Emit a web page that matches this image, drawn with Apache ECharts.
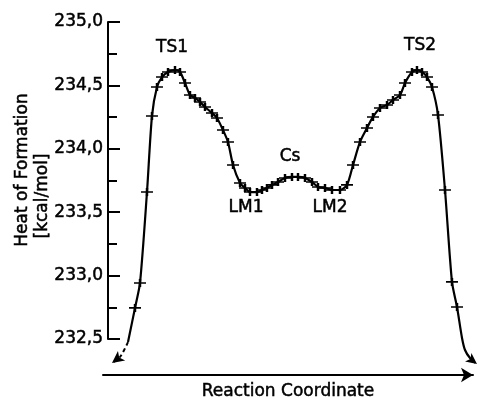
<!DOCTYPE html>
<html>
<head>
<meta charset="utf-8">
<script src="https://cdn.jsdelivr.net/npm/echarts@6/dist/echarts.min.js"></script>
<style>
  html, body { margin: 0; padding: 0; background: #fff; }
  #chart { width: 479px; height: 399px; }
</style>
</head>
<body>
<div id="chart"></div>
<script>
// reaction coordinate (arbitrary units 0..100) and heat of formation of the computed points
let pointX = [8.65, 10.0, 11.89, 13.24, 14.59, 15.95, 17.57, 19.46, 20.81, 22.16,
  23.51, 24.86, 26.22, 27.57, 29.46, 30.81, 32.43, 33.78, 35.14, 37.03,
  38.38, 39.73, 41.62, 42.97, 44.32, 45.68, 47.30, 49.19, 51.08, 52.70,
  54.59, 56.49, 58.11, 60.00, 61.89, 64.05, 65.95, 67.57, 69.46, 71.35,
  72.97, 74.86, 76.76, 78.38, 80.27, 81.62, 83.51, 84.86, 86.22, 87.57,
  88.92, 90.54, 92.43, 94.32, 95.68];
let pointHeat = [232.745, 232.942, 233.659, 234.259, 234.487, 234.566, 234.606, 234.621, 234.606, 234.519,
  234.424, 234.401, 234.369, 234.330, 234.282, 234.243, 234.148, 234.054, 233.872, 233.730,
  233.691, 233.659, 233.659, 233.675, 233.691, 233.715, 233.738, 233.770, 233.778, 233.778,
  233.770, 233.738, 233.699, 233.691, 233.675, 233.675, 233.715, 233.872, 234.054, 234.164,
  234.251, 234.322, 234.345, 234.385, 234.424, 234.519, 234.606, 234.621, 234.606, 234.566,
  234.487, 234.267, 233.675, 232.950, 232.752];

// curve ends (no computed points)
let leftTailX = [6.76, 4.59, 2.43];
let leftTailHeat = [232.476, 232.358, 232.311];
let rightTailX = [97.03, 97.84, 99.19, 101.08];
let rightTailHeat = [232.508, 232.413, 232.350, 232.303];

// stationary point labels
let labelNames = ['TS1', 'TS2', 'Cs', 'LM1', 'LM2'];
let labelX = [18.65, 85.68, 50.54, 38.65, 61.35];
let labelHeat = [234.80, 234.815, 233.94, 233.54, 233.54];

let font = 'DejaVu Sans';
// scanned print looks heavy: thicken glyphs a little
let ink = { color: '#000', fontSize: 17, fontFamily: font, textBorderColor: '#000', textBorderWidth: 0.5 };

let curve = [[leftTailX[0], leftTailHeat[0]]];
pointX.forEach((x, i) => curve.push([x, pointHeat[i]]));
rightTailX.forEach((x, i) => curve.push([x, rightTailHeat[i]]));
let last = curve.length - 1;
curve[last] = { value: curve[last], symbol: 'arrow', symbolSize: [8, 11], symbolRotate: 233 };

let leftTail = leftTailX.map((x, i) => [x, leftTailHeat[i]]);
leftTail[2] = { value: leftTail[2], symbol: 'arrow', symbolSize: [9, 12], symbolRotate: 127 };

let myChart = echarts.init(document.getElementById('chart'));
myChart.setOption({
  animation: false,
  grid: {
    left: 103,
    right: 6,
    top: 22,
    bottom: 60,
    containLabel: false,
    outerBoundsMode: 'none'
  },
  xAxis: {
    type: 'value',
    min: 0,
    max: 100,
    offset: 36,
    name: 'Reaction Coordinate',
    nameLocation: 'middle',
    nameGap: 8,
    nameTextStyle: Object.assign({ verticalAlign: 'top' }, ink),
    axisLine: {
      lineStyle: { color: '#000', width: 2 },
      symbol: ['none', 'arrow'],
      symbolSize: [11, 12]
    },
    axisTick: { show: false },
    axisLabel: { show: false },
    splitLine: { show: false }
  },
  yAxis: {
    type: 'value',
    min: 232.5,
    max: 235,
    interval: 0.5,
    offset: -5,
    axisLine: { show: true, lineStyle: { color: '#000', width: 2 } },
    axisTick: { show: true, inside: true, length: 12, lineStyle: { color: '#000', width: 2 } },
    minorTick: { show: true, splitNumber: 2, length: 9, lineStyle: { color: '#000', width: 2 } },
    axisLabel: Object.assign({
      margin: 5,
      formatter: v => v.toFixed(1).replace('.', ',')
    }, ink),
    splitLine: { show: false }
  },
  graphic: [
    {
      type: 'text', x: 23, y: 170, rotation: Math.PI / 2,
      style: { text: 'Heat of Formation', fill: '#000', stroke: '#000', lineWidth: 0.5, font: '17px "DejaVu Sans"', align: 'center', verticalAlign: 'middle' }
    },
    {
      type: 'text', x: 43, y: 196, rotation: Math.PI / 2,
      style: { text: '[kcal/mol]', fill: '#000', stroke: '#000', lineWidth: 0.5, font: '17px "DejaVu Sans"', align: 'center', verticalAlign: 'middle' }
    }
  ],
  series: [
    {
      type: 'line',
      data: curve,
      smooth: 0.25,
      symbol: 'none',
      showSymbol: true,
      clip: false,
      lineStyle: { color: '#000', width: 2.2 },
      itemStyle: { color: '#000' }
    },
    {
      type: 'line',
      data: leftTail,
      smooth: 0.3,
      symbol: 'none',
      showSymbol: true,
      clip: false,
      lineStyle: { color: '#000', width: 2, type: [4, 3] },
      itemStyle: { color: '#000' }
    },
    {
      type: 'scatter',
      data: pointX.map((x, i) => [x, pointHeat[i]]),
      symbol: 'path://M0,4H12M6,0V8',
      symbolSize: [12, 8],
      clip: false,
      itemStyle: { color: '#000', borderColor: '#000', borderWidth: 2, opacity: 1 }
    },
    {
      type: 'scatter',
      data: labelNames.map((n, i) => ({ name: n, value: [labelX[i], labelHeat[i]] })),
      symbolSize: 0,
      itemStyle: { opacity: 1 },
      label: Object.assign({ show: true, position: 'inside', formatter: '{b}' }, ink)
    }
  ]
});
</script>
</body>
</html>
